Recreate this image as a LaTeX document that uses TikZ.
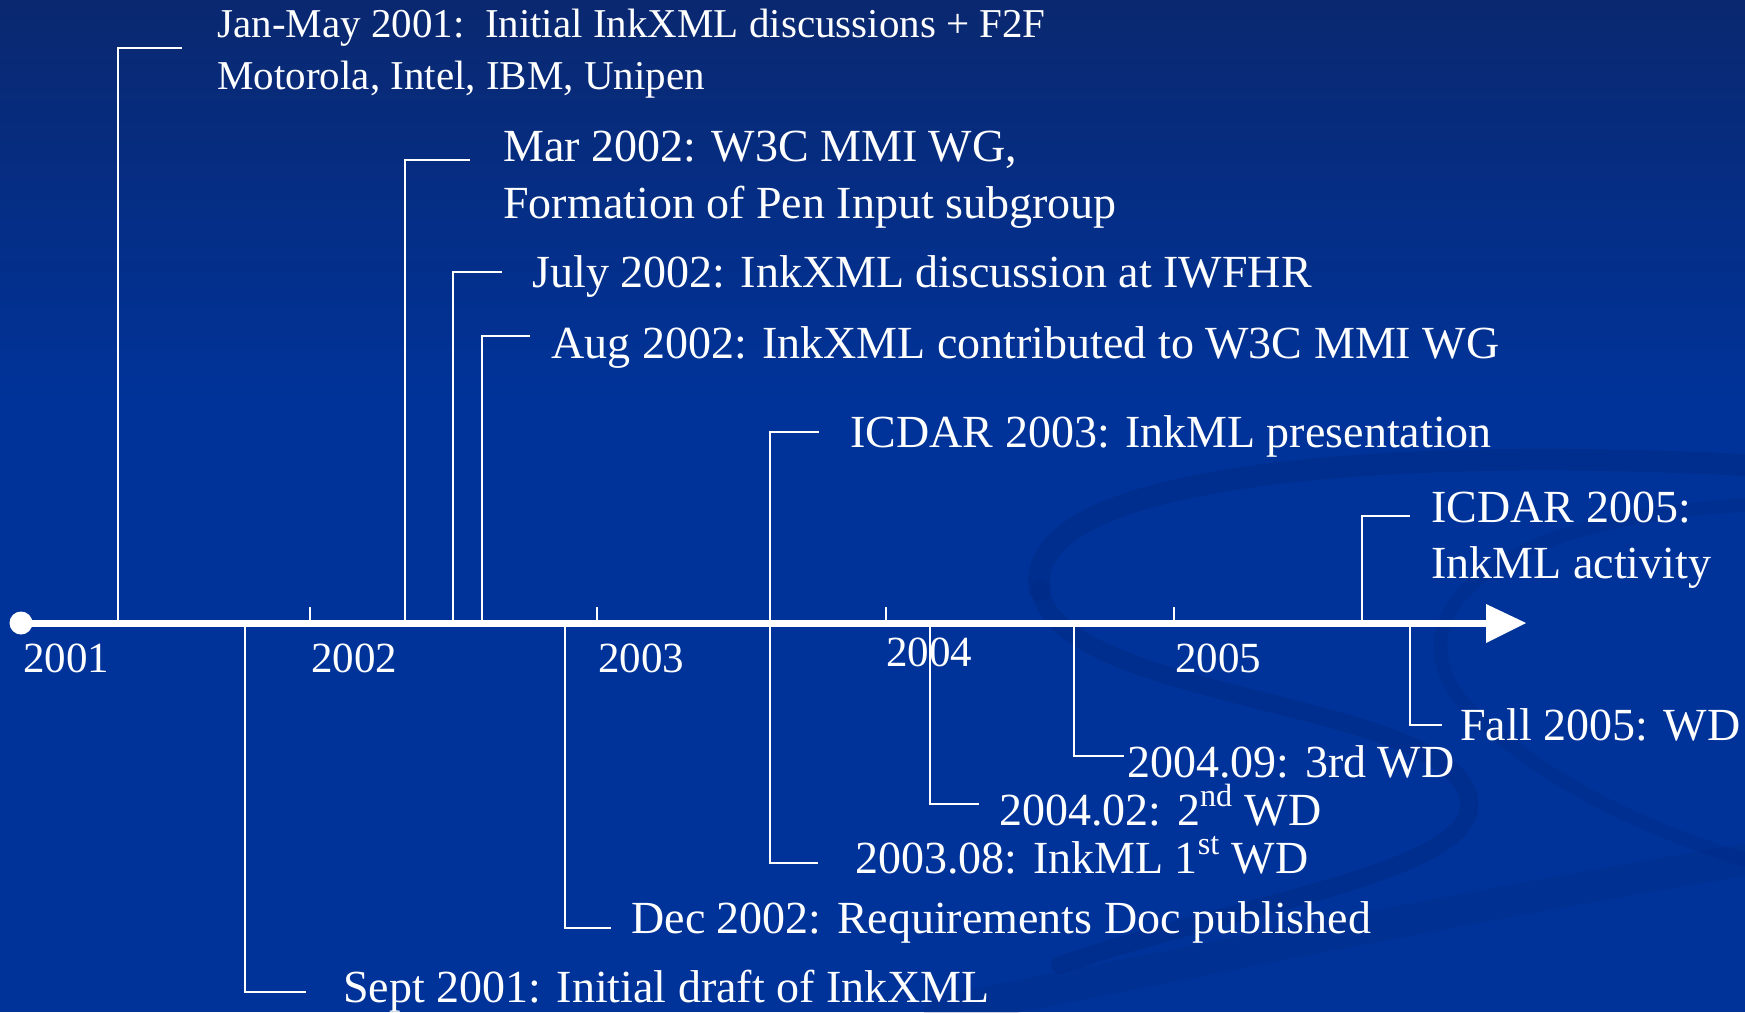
\documentclass[tikz,border=0pt]{standalone}
\usepackage{fontspec}
\setmainfont{Liberation Serif}
\definecolor{bgmain}{HTML}{003399}
\definecolor{bgtop}{HTML}{0A2870}
\definecolor{swirlc}{HTML}{00257A}
\begin{document}
\begin{tikzpicture}[x=0.5pt,y=-0.5pt,
  conn/.style={draw=white,line width=1.1pt},
  tickmark/.style={draw=white,line width=1.1pt},
  swirl/.style={draw=swirlc,opacity=0.3,line cap=round},
  lbl/.style={text=white,font=\fontsize{23}{27}\selectfont,anchor=base west,inner sep=0pt},
  smalllbl/.style={lbl,font=\fontsize{20.5}{24}\selectfont},
  yr/.style={text=white,font=\fontsize{21.5}{26}\selectfont,anchor=base west,inner sep=0pt}]
\useasboundingbox (0,0) rectangle (1745,1012);
% background
\fill[bgmain] (0,0) rectangle (1745,1012);
\shade[top color=bgtop,bottom color=bgmain] (0,0) rectangle (1745,400);
% decorative swirl bands
\draw[swirl,line width=11pt] (1040,590) .. controls (1020,480) and (1350,445) .. (1745,465);
\draw[swirl,line width=9pt] (1040,590) .. controls (1060,700) and (1440,700) .. (1468,795)
  .. controls (1490,870) and (1250,900) .. (1060,965);
\draw[swirl,line width=7pt,opacity=0.22] (1745,505) .. controls (1470,520) and (1380,630) .. (1480,720)
  .. controls (1560,790) and (1650,830) .. (1745,860);
\draw[swirl,line width=16pt,opacity=0.2] (940,1012) .. controls (1200,960) and (1500,900) .. (1745,860);

% time axis
\coordinate (start) at (21,623);
\coordinate (tipbase) at (1486,623);
\coordinate (tip) at (1526,623);
\draw[white,line width=3.5pt] (start) -- (tipbase);
\fill[white] (tip) -- (1486,604) -- (1486,643) -- cycle;
\fill[white] (start) circle[radius=11.5];

% year ticks and labels
\foreach \yx/\yy [count=\i] in {310/2002,597/2003,886/2004,1174/2005}{
  \coordinate (t\i) at (\yx,623);
  \draw[tickmark] (t\i) -- ++(0,-16);
}
\node[yr] (y2001) at (23,672) {2001};
\node[yr] (y2002) at (311,672) {2002};
\node[yr] (y2003) at (598,672) {2003};
\node[yr] (y2004) at (886,666) {2004};
\node[yr] (y2005) at (1175,672) {2005};

% events above the axis
\node[smalllbl] (jan1) at (217,37) {Jan-May 2001:\ \ Initial InkXML discussions + F2F};
\node[smalllbl] (jan2) at (217,89) {Motorola, Intel, IBM, Unipen};
\node[lbl] (mar1) at (503,161) {Mar 2002: W3C MMI WG,};
\node[lbl] (mar2) at (503,218) {Formation of Pen Input subgroup};
\node[lbl] (jul) at (532,287) {July 2002: InkXML discussion at IWFHR};
\node[lbl] (aug) at (551,358) {Aug 2002: InkXML contributed to W3C MMI WG};
\node[lbl] (icd3) at (850,447) {ICDAR 2003: InkML presentation};
\node[lbl] (icd5a) at (1431,522) {ICDAR 2005:};
\node[lbl] (icd5b) at (1431,578) {InkML activity};

% events below the axis
\node[lbl] (fall) at (1460,740) {Fall 2005: WD};
\node[lbl] (wd3) at (1127,777) {2004.09: 3rd WD};
\node[lbl] (wd2) at (999,825) {2004.02: 2\textsuperscript{nd} WD};
\node[lbl] (wd1) at (855,873) {2003.08: InkML 1\textsuperscript{st} WD};
\node[lbl] (dec) at (631,933) {Dec 2002: Requirements Doc published};
\node[lbl] (sep) at (343,1002) {Sept 2001: Initial draft of InkXML};

% connectors: axis point -> elbow end
\foreach \n/\ax/\ex/\ey in {
  cjan/118/182/48, cmar/405/470/160, cjul/453/502/272, caug/482/530/336,
  cicd3/770/819/432, cicd5/1362/1410/516,
  cfall/1410/1442/725, cwd3/1074/1124/756, cwd2/930/979/804,
  cwd1/770/818/863, cdec/565/611/928, csep/245/306/992}{
  \coordinate (\n-a) at (\ax,623);
  \coordinate (\n-e) at (\ex,\ey);
  \draw[conn] (\n-a) |- (\n-e);
}
\end{tikzpicture}
\end{document}
